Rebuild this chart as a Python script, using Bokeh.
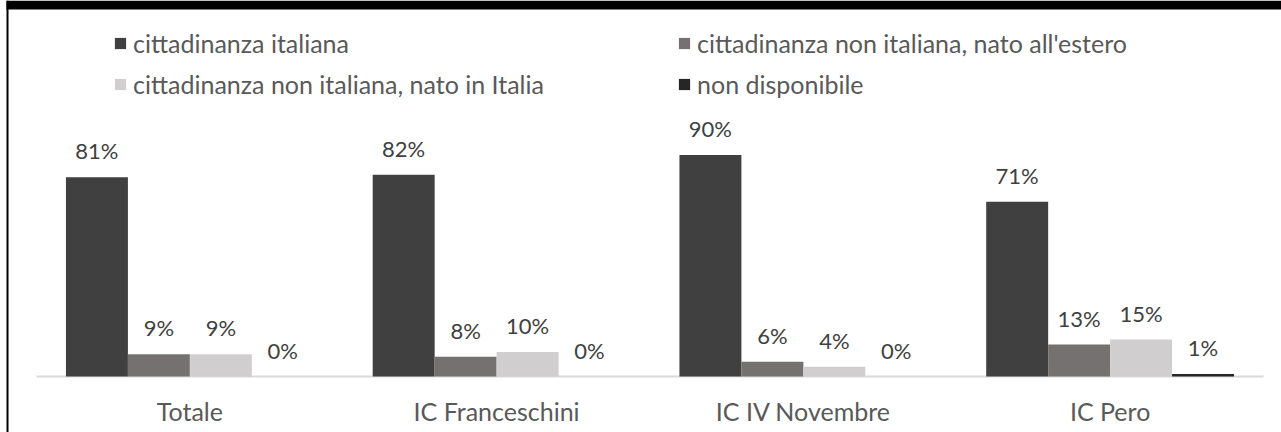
from bokeh.plotting import figure
from bokeh.models import (ColumnDataSource, LabelSet, Legend, LegendItem, Range1d,
                          BoxAnnotation)
from bokeh.transform import dodge
from bokeh.core.properties import value
from bokeh.embed import file_html
from bokeh.resources import INLINE

categories = ["Totale", "IC Franceschini", "IC IV Novembre", "IC Pero"]
series_names = [
    "cittadinanza italiana",
    "cittadinanza non italiana, nato all'estero",
    "cittadinanza non italiana, nato in Italia",
    "non disponibile",
]
italiana = [81, 82, 90, 71]
estero = [9, 8, 6, 13]
italia = [9, 10, 4, 15]
non_disp = [0, 0, 0, 1]

colors = ["#404040", "#767171", "#d0cece", "#262626"]
FONT = "Lato"

n = len(categories)
xs = list(range(n))
src = ColumnDataSource(dict(
    x=xs,
    cat=categories,
    zero=[0] * n,
    s0=italiana, s1=estero, s2=italia, s3=non_disp,
    l0=[f"{v:.0f}%" for v in italiana],
    l1=[f"{v:.0f}%" for v in estero],
    l2=[f"{v:.0f}%" for v in italia],
    l3=[f"{v:.0f}%" for v in non_disp],
))

W, H = 1281, 432
plot_left, plot_right = 36, 1263      # pixel extent of the category axis
base_px = 376                         # pixel row of the baseline
px_per_pct = 2.46
cat_w = (plot_right - plot_left) / n
x_start = -0.5 - plot_left / cat_w
x_end = n - 0.5 + (W - plot_right) / cat_w
y_start = -(H - base_px) / px_per_pct
y_end = base_px / px_per_pct

p = figure(
    x_range=Range1d(x_start, x_end),
    y_range=Range1d(y_start, y_end),
    width=W, height=H,
    output_backend="svg", toolbar_location=None,
    min_border_left=0, min_border_right=0, min_border_top=0, min_border_bottom=0,
)
p.outline_line_color = None
p.background_fill_color = "white"
p.border_fill_color = "white"
p.xgrid.grid_line_color = None
p.ygrid.grid_line_color = None
p.xaxis.visible = False
p.yaxis.visible = False

# baseline (category axis line)
p.segment(x0=[-0.5], x1=[n - 0.5], y0=[0], y1=[0], line_color="#d9d9d9", line_width=2)

offsets = [-0.303, -0.101, 0.101, 0.303]
bw = 0.202
renderers = []
for i in range(4):
    r = p.vbar(x=dodge("x", offsets[i]), top=f"s{i}", width=bw,
               source=src, fill_color=colors[i], line_color=None)
    renderers.append(r)
    lbl = LabelSet(x=dodge("x", offsets[i]), y=f"s{i}", text=f"l{i}",
                   source=src, text_align="center", text_baseline="alphabetic",
                   y_offset=18, text_font=value(FONT), text_font_size=value("22px"),
                   text_color=value("#404040"))
    p.add_layout(lbl)

# category labels
p.add_layout(LabelSet(x="x", y="zero", text="cat", source=src,
                      text_align="center", text_baseline="alphabetic", y_offset=-44,
                      text_font=value(FONT), text_font_size=value("25px"),
                      text_color=value("#595959")))

def make_legend(items, loc):
    lg = Legend(items=items, location=loc, orientation="vertical",
                border_line_color=None, background_fill_alpha=0,
                padding=0, margin=0, spacing=11,
                glyph_width=14, glyph_height=14, label_standoff=6,
                label_height=25,
                label_text_font=FONT, label_text_font_size="25px",
                label_text_color="#595959")
    return lg

leg_left = make_legend([
    LegendItem(label=series_names[0], renderers=[renderers[0]]),
    LegendItem(label=series_names[2], renderers=[renderers[2]]),
], (113, 277 + (H - base_px)))
leg_right = make_legend([
    LegendItem(label=series_names[1], renderers=[renderers[1]]),
    LegendItem(label=series_names[3], renderers=[renderers[3]]),
], (677, 277 + (H - base_px)))
p.add_layout(leg_left)
p.add_layout(leg_right)

# chart border (black band at top, thin black line at left)
p.add_layout(BoxAnnotation(left=6, right=W, top=0, bottom=9,
                           left_units="canvas", right_units="canvas",
                           top_units="canvas", bottom_units="canvas",
                           fill_color="black", fill_alpha=1, line_color=None))
p.add_layout(BoxAnnotation(left=6, right=8, top=0, bottom=H,
                           left_units="canvas", right_units="canvas",
                           top_units="canvas", bottom_units="canvas",
                           fill_color="black", fill_alpha=1, line_color=None))

open("out.html", "w").write(file_html(p, INLINE))
